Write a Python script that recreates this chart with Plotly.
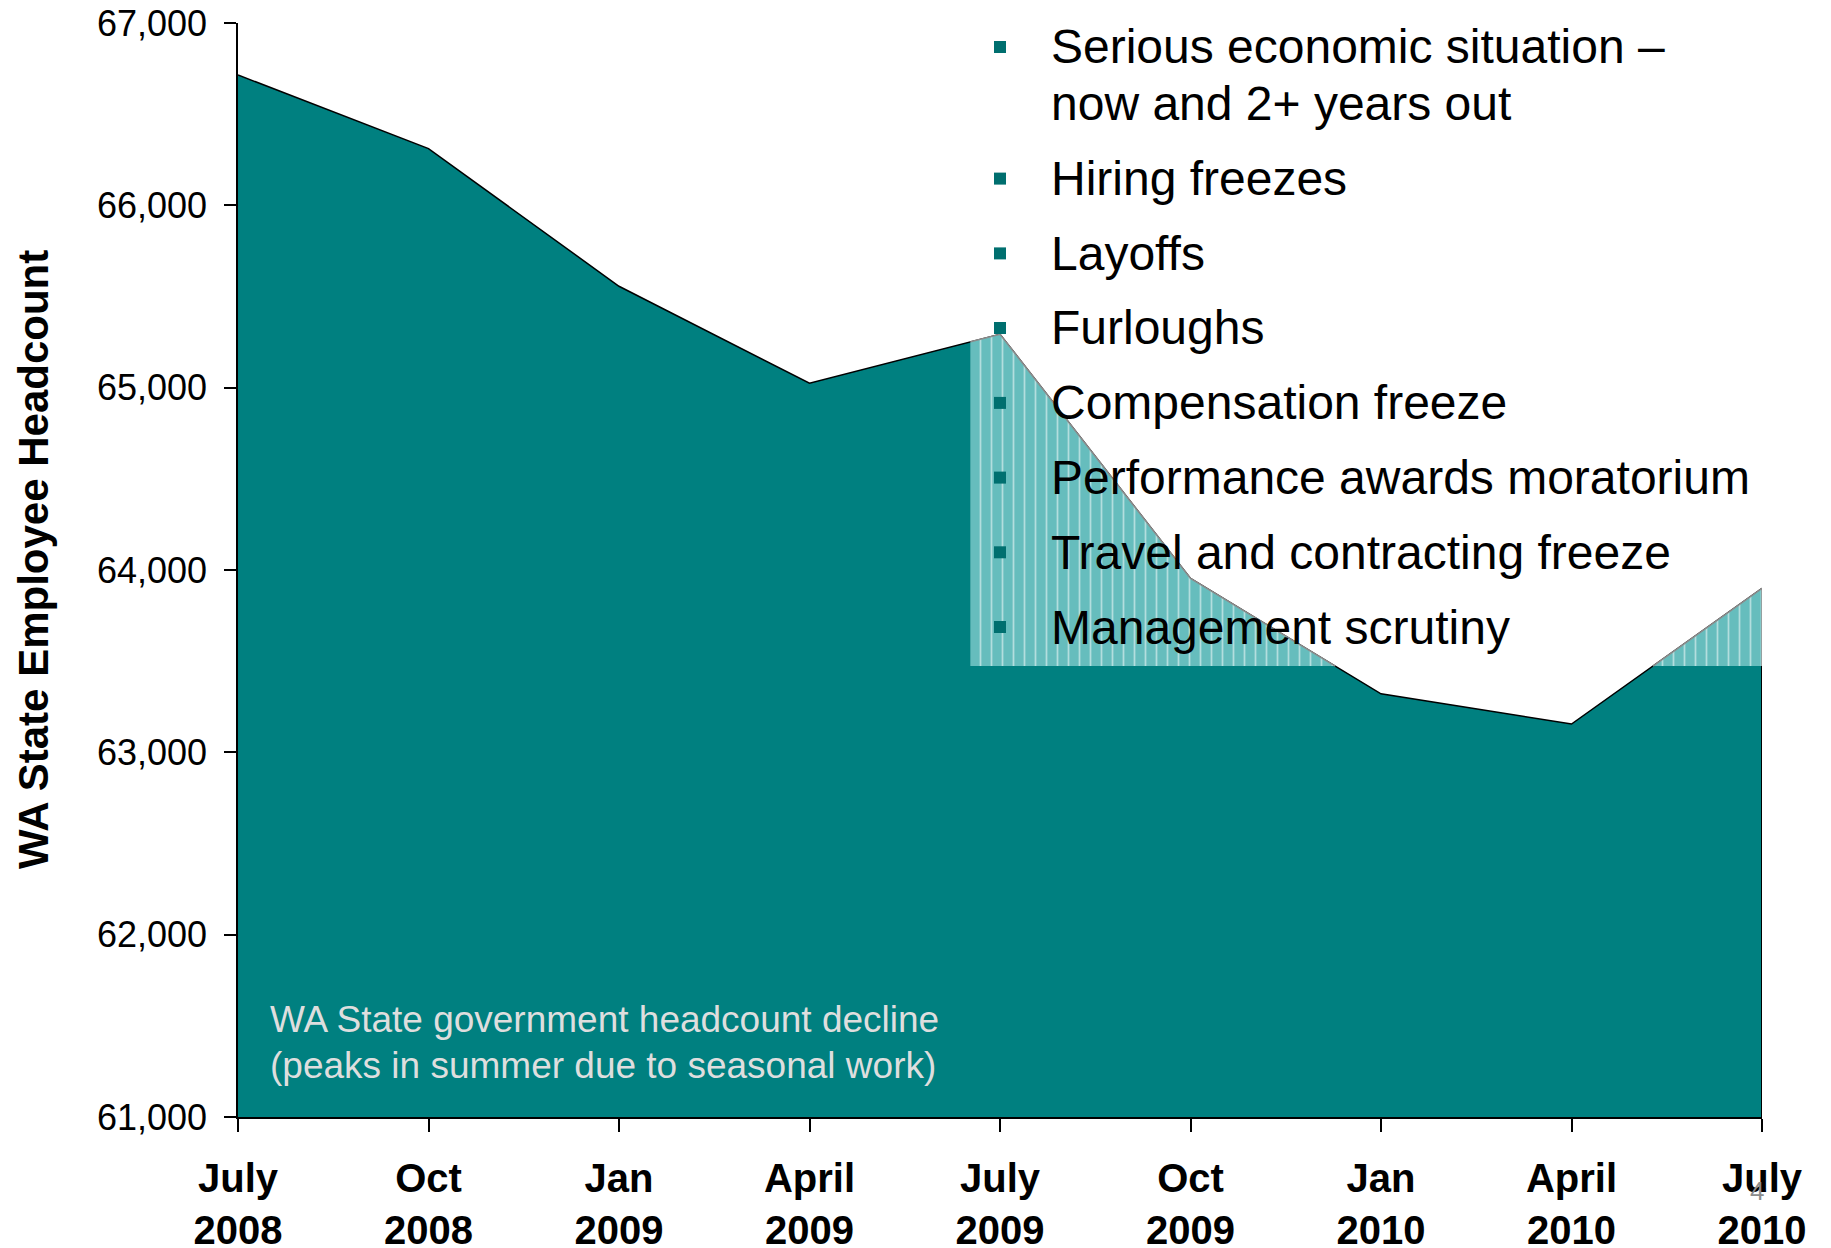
import numpy as np
import plotly.graph_objects as go

# ---- data ----
period_labels = ["July<br>2008", "Oct<br>2008", "Jan<br>2009", "April<br>2009", "July<br>2009",
                 "Oct<br>2009", "Jan<br>2010", "April<br>2010", "July<br>2010"]
headcount = [66715, 66311, 65556, 65024, 65293, 63954, 63321, 63155, 63899]
y_ticks = [61000, 62000, 63000, 64000, 65000, 66000, 67000]
hatch_start = 3.845      # period index where the highlighted band begins
hatch_floor = 63473      # headcount level forming the bottom of the highlighted band
bullets = ["Serious economic situation –|now and 2+ years out", "Hiring freezes", "Layoffs",
           "Furloughs", "Compensation freeze", "Performance awards moratorium",
           "Travel and contracting freeze", "Management scrutiny"]
note_lines = ["WA State government headcount decline", "(peaks in summer due to seasonal work)"]

W, H = 1831, 1248
L, R, T, B = 238, 69, 23, 131
PW, PH = W - L - R, H - T - B
FONT = "Arial, Liberation Sans, Helvetica, sans-serif"

def px(xp):
    return (xp - L) / PW

def py(yp):
    return (H - B - yp) / PH

x = np.arange(len(headcount), dtype=float)
y = np.array(headcount, dtype=float)
ymin, ymax = y_ticks[0], y_ticks[-1]

# highlighted band geometry from data
cross = []
for i in range(len(y) - 1):
    a, b = y[i] - hatch_floor, y[i + 1] - hatch_floor
    if a * b < 0:
        cross.append(x[i] + (hatch_floor - y[i]) / (y[i + 1] - y[i]))
xs = sorted(set([hatch_start] + [v for v in x if v > hatch_start] + [c for c in cross if c > hatch_start]))
xs = np.array(xs)
yl = np.interp(xs, x, y)
yu = np.maximum(yl, hatch_floor)

fig = go.Figure()
fig.add_trace(go.Scatter(x=x, y=y, mode="lines", fill="tozeroy", fillcolor="#008080",
                         line=dict(color="black", width=1.5), hoverinfo="skip", showlegend=False))
fig.add_trace(go.Scatter(x=[x[-1], x[-1]], y=[ymin, y[-1]], mode="lines",
                         line=dict(color="black", width=2), hoverinfo="skip", showlegend=False))
fig.add_trace(go.Scatter(x=xs, y=[hatch_floor] * len(xs), mode="lines", line=dict(width=0),
                         hoverinfo="skip", showlegend=False))
fig.add_trace(go.Scatter(x=xs, y=yu, mode="lines", fill="tonexty", fillcolor="#66bdbd",
                         fillpattern=dict(shape="|", fgcolor="#ffffff", bgcolor="#66bdbd",
                                          size=11, solidity=0.16),
                         line=dict(width=0), hoverinfo="skip", showlegend=False))
gray_x = list(xs) + [x[-1]]
gray_y = [v if v >= hatch_floor - 1e-6 else None for v in yl] + [hatch_floor]
fig.add_trace(go.Scatter(x=gray_x, y=gray_y, mode="lines", connectgaps=False,
                         line=dict(color="#8c8c8c", width=1.5), hoverinfo="skip", showlegend=False))

annotations = []
shapes = []
# bullet list
bx, tx = 1000, 1049
item_y = [47, 178.6, 253.4, 328, 402.9, 477.6, 552.3, 627]
for text, yc in zip(bullets, item_y):
    shapes.append(dict(type="rect", xref="paper", yref="paper", xsizemode="pixel", ysizemode="pixel",
                       xanchor=px(bx), yanchor=py(yc), x0=-6, x1=6, y0=-6, y1=6,
                       fillcolor="#006f6f", line=dict(width=0), layer="above"))
    for k, line in enumerate(text.split("|")):
        annotations.append(dict(x=px(tx), y=py(yc + k * 56.5), xref="paper", yref="paper",
                                text=line, showarrow=False, xanchor="left", yanchor="middle",
                                font=dict(family=FONT, size=48, color="black")))
# note inside area
for k, line in enumerate(note_lines):
    annotations.append(dict(x=px(268), y=py(1019 + k * 46), xref="paper", yref="paper",
                            text=line, showarrow=False, xanchor="left", yanchor="middle",
                            font=dict(family=FONT, size=37, color="#dedede")))
# y title
annotations.append(dict(x=px(33), y=py(560), xref="paper", yref="paper",
                        text="<b>WA State Employee Headcount</b>", textangle=-90, showarrow=False,
                        xanchor="center", yanchor="middle",
                        font=dict(family=FONT, size=42, color="black")))
# page number
annotations.append(dict(x=px(1757), y=py(1191), xref="paper", yref="paper", text="4",
                        showarrow=False, xanchor="center", yanchor="middle",
                        font=dict(family=FONT, size=26, color="#8c8c8c")))

fig.update_layout(
    width=W, height=H, margin=dict(l=L, r=R, t=T, b=B, autoexpand=False),
    paper_bgcolor="white", plot_bgcolor="white",
    xaxis=dict(range=[0, len(headcount) - 1], tickmode="array", tickvals=list(x),
               ticktext=["<b>%s</b>" % t for t in period_labels],
               ticks="outside", ticklen=13, tickwidth=1.5, tickcolor="black",
               ticklabelstandoff=12,
               showline=True, linecolor="black", linewidth=2, showgrid=False, zeroline=False,
               tickfont=dict(family=FONT, size=40, color="black")),
    yaxis=dict(range=[ymin, ymax], tickmode="array", tickvals=y_ticks,
               ticktext=["{:,}".format(v) for v in y_ticks],
               ticks="outside", ticklen=12, tickwidth=1.5, tickcolor="black",
               ticklabelstandoff=10,
               showline=True, linecolor="black", linewidth=1.5, showgrid=False, zeroline=False,
               tickfont=dict(family=FONT, size=36, color="black")),
    annotations=annotations, shapes=shapes,
)

fig.write_html("out.html")
